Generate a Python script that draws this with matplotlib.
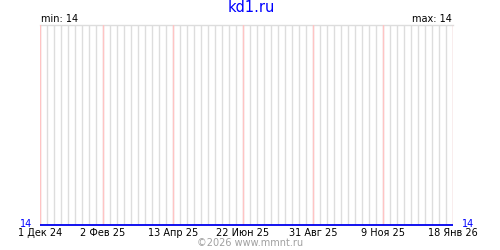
import matplotlib
matplotlib.use("Agg")
import matplotlib.pyplot as plt
import datetime as dt

# Data
dates = ["2024-12-01", "2026-01-18"]
values = [14, 14]
tick_dates = ["2024-12-01", "2025-02-02", "2025-04-13", "2025-06-22",
              "2025-08-31", "2025-11-09", "2026-01-18"]
tick_labels = ["1 Дек 24", "2 Фев 25", "13 Апр 25", "22 Июн 25",
               "31 Авг 25", "9 Ноя 25", "18 Янв 26"]
title = "kd1.ru"
y_min_label = "min: 14"
y_max_label = "max: 14"
copyright_text = "©2026 www.mmnt.ru"

plt.rcParams['font.family'] = ['DejaVu Sans']

W, H = 500, 250
fig = plt.figure(figsize=(W / 100, H / 100), dpi=100)
fig.patch.set_facecolor("white")

left_px, right_px, top_px, bottom_px = 40, 453, 25, 225
ax = fig.add_axes([left_px / W, 1 - bottom_px / H,
                   (right_px - left_px) / W, (bottom_px - top_px) / H])

x = [dt.datetime.strptime(d, "%Y-%m-%d") for d in dates]
xt = [dt.datetime.strptime(d, "%Y-%m-%d") for d in tick_dates]
x0, x1 = xt[0], xt[-1]

# weekly gray grid
d = x0
while d <= x1:
    ax.axvline(d, color="#dddddd", lw=1, zorder=1)
    d += dt.timedelta(days=7)
# pink lines at labeled dates
for t in xt:
    ax.axvline(t, color="#ffc4c4", lw=1, zorder=2)
# top gray line
ax.axhline(15, color="#dddddd", lw=1, zorder=1, clip_on=False)

ax.plot(x, values, color="#0000ee", lw=1.3, zorder=3, clip_on=False,
        solid_capstyle="butt")

ax.set_xlim(x0, x1)
ax.set_ylim(14, 15)
for s in ax.spines.values():
    s.set_visible(False)
ax.set_xticks(xt)
ax.set_xticklabels(tick_labels, fontsize=7)
ax.tick_params(axis="x", length=0, pad=2)
ax.set_yticks([])

fs = 7
# y labels (pixel placement)
fig.text(32 / W, 1 - 224 / H, "14", ha="right", va="center",
         color="#0000ff", fontsize=fs)
fig.text(462 / W, 1 - 224 / H, "14", ha="left", va="center",
         color="#0000ff", fontsize=fs)

fig.text(251 / W, 1 - 8 / H, title, ha="center", va="center",
         color="#0000ff", fontsize=10.5)
fig.text(41 / W, 1 - 19.5 / H, y_min_label, ha="left", va="center",
         color="black", fontsize=fs)
fig.text(452 / W, 1 - 19.5 / H, y_max_label, ha="right", va="center",
         color="black", fontsize=fs)
fig.text(250 / W, 1 - 243.5 / H, copyright_text, ha="center", va="center",
         color="#a0a0a0", fontsize=fs)

fig.savefig("out.png", dpi=100)
